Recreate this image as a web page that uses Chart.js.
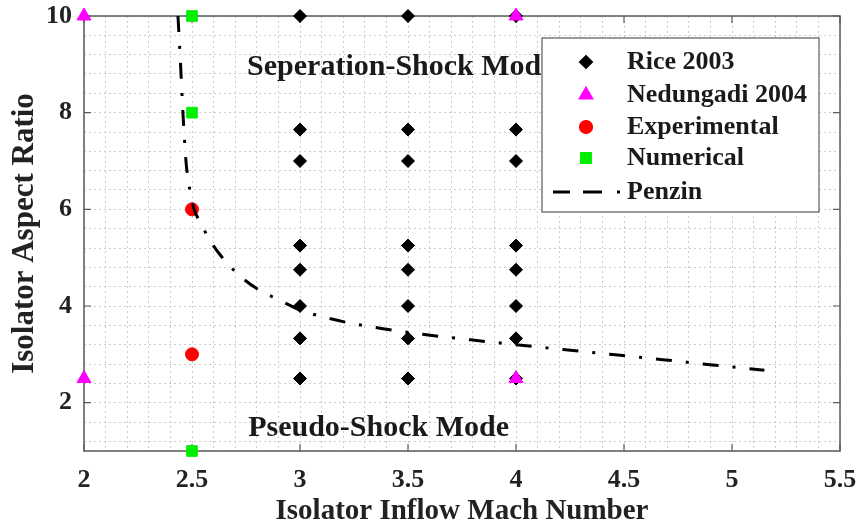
<!DOCTYPE html>
<html>
<head>
<meta charset="utf-8">
<script src="https://cdn.jsdelivr.net/npm/chart.js@4.4.0/dist/chart.umd.min.js"></script>
<style>
  html, body { margin: 0; padding: 0; background: #fff; }
  #wrap { width: 863px; height: 529px; }
</style>
</head>
<body>
<div id="wrap"><canvas id="chart"></canvas></div>
<script>
// Isolator operating map: aspect ratio vs. inflow Mach number
const riceMach = [3, 3, 3, 3, 3, 3, 3, 3,
                  3.5, 3.5, 3.5, 3.5, 3.5, 3.5, 3.5, 3.5,
                  4, 4, 4, 4, 4, 4, 4, 4];
const riceRatio = [10, 7.65, 7, 5.25, 4.75, 4, 3.33, 2.5,
                   10, 7.65, 7, 5.25, 4.75, 4, 3.33, 2.5,
                   10, 7.65, 7, 5.25, 4.75, 4, 3.33, 2.5];

const nedungadiMach = [2, 2, 4, 4];
const nedungadiRatio = [10, 2.5, 10, 2.5];

const experimentalMach = [2.5, 2.5];
const experimentalRatio = [6, 3];

const numericalMach = [2.5, 2.5, 2.5];
const numericalRatio = [10, 8, 1];

const penzinMach = [2.435, 2.447, 2.458, 2.472, 2.49, 2.51, 2.54, 2.58, 2.63, 2.71, 2.8, 2.91,
                    3.0, 3.12, 3.25, 3.4, 3.56, 3.79, 4.0, 4.24, 4.46, 4.68, 4.91, 5.15];
const penzinRatio = [10, 9, 8, 7, 6.4, 6, 5.72, 5.38, 5.06, 4.67, 4.36, 4.11,
                     3.92, 3.76, 3.63, 3.52, 3.42, 3.3, 3.2, 3.09, 2.99, 2.89, 2.78, 2.67];

const xTicks = [2, 2.5, 3, 3.5, 4, 4.5, 5, 5.5];
const yTicks = [2, 4, 6, 8, 10];

const regionLabels = ['Seperation-Shock Mode', 'Pseudo-Shock Mode'];
const regionMach = [2.755, 2.76];
const regionRatio = [8.93, 1.48];

const FONT = "'Liberation Serif', 'Times New Roman', serif";

function pairs(xs, ys) {
  return xs.map((x, i) => ({ x: x, y: ys[i] }));
}

// grid positions: 0.1 in Mach, 0.4 in aspect ratio
const xGrid = [];
for (let i = 0; i <= 35; i++) xGrid.push(Math.round((2 + i * 0.1) * 10) / 10);
const yGrid = [1];
for (let i = 0; i <= 22; i++) yGrid.push(Math.round((1.2 + i * 0.4) * 10) / 10);

const isMajor = (list, v) => list.some(t => Math.abs(t - v) < 1e-6);

// keep the plot frame where the layout padding puts it
function noLabelPadding(s) {
  s.paddingTop = 0;
  s.paddingBottom = 0;
  s.paddingLeft = 0;
  s.paddingRight = 0;
}

const boxPlugin = {
  id: 'box',
  beforeDatasetsDraw(chart) {
    const { ctx, chartArea: a, scales } = chart;
    ctx.save();
    ctx.strokeStyle = '#5a5a5a';
    ctx.lineWidth = 1.5;
    ctx.strokeRect(a.left, a.top, a.right - a.left, a.bottom - a.top);
    ctx.lineWidth = 1.2;
    ctx.beginPath();
    xTicks.forEach(v => {
      const px = scales.x.getPixelForValue(v);
      ctx.moveTo(px, a.bottom); ctx.lineTo(px, a.bottom - 7);
      ctx.moveTo(px, a.top); ctx.lineTo(px, a.top + 7);
    });
    yTicks.forEach(v => {
      const py = scales.y.getPixelForValue(v);
      ctx.moveTo(a.left, py); ctx.lineTo(a.left + 7, py);
      ctx.moveTo(a.right, py); ctx.lineTo(a.right - 7, py);
    });
    ctx.stroke();
    ctx.restore();
  },
  afterDatasetsDraw(chart) {
    const { ctx, scales } = chart;
    ctx.save();
    ctx.fillStyle = '#1a1a1a';
    ctx.font = 'bold 30px ' + FONT;
    ctx.textAlign = 'left';
    ctx.textBaseline = 'middle';
    regionLabels.forEach((t, i) => {
      ctx.fillText(t, scales.x.getPixelForValue(regionMach[i]), scales.y.getPixelForValue(regionRatio[i]));
    });
    ctx.restore();
  }
};

const legendPlugin = {
  id: 'boxLegend',
  afterDraw(chart) {
    const { ctx, chartArea: a } = chart;
    const w = 277, h = 174;
    const left = a.right - 21 - w, top = a.top + 22;
    ctx.save();
    ctx.fillStyle = '#fff';
    ctx.fillRect(left, top, w, h);
    ctx.strokeStyle = '#5a5a5a';
    ctx.lineWidth = 1.2;
    ctx.strokeRect(left, top, w, h);
    const rowY = [24, 57, 89, 120, 154];
    chart.data.datasets.forEach((ds, i) => {
      const y = top + rowY[i];
      if (ds.type === 'line') {
        ctx.strokeStyle = ds.borderColor;
        ctx.lineWidth = ds.borderWidth;
        ctx.setLineDash([17, 13, 19, 15, 3, 40]);
        ctx.beginPath();
        ctx.moveTo(left + 11, y);
        ctx.lineTo(left + 80, y);
        ctx.stroke();
        ctx.setLineDash([]);
      } else {
        ctx.fillStyle = ds.backgroundColor;
        ctx.strokeStyle = ds.borderColor;
        Chart.helpers.drawPoint(ctx, {
          pointStyle: ds.pointStyle, radius: ds.pointRadius, rotation: 0, borderWidth: 1
        }, left + 44, y);
      }
      ctx.fillStyle = '#1a1a1a';
      ctx.font = 'bold 26px ' + FONT;
      ctx.textAlign = 'left';
      ctx.textBaseline = 'middle';
      ctx.fillText(ds.label, left + 85, y);
    });
    ctx.restore();
  }
};

const scatter = (label, xs, ys, style, color, radius, order) => ({
  label: label,
  data: pairs(xs, ys),
  pointStyle: style,
  pointRadius: radius,
  pointHoverRadius: radius,
  backgroundColor: color,
  borderColor: color,
  borderWidth: 1,
  clip: false,
  order: order
});

new Chart(document.getElementById('chart'), {
  type: 'scatter',
  data: {
    datasets: [
      scatter('Rice 2003', riceMach, riceRatio, 'rectRot', '#000000', 6.5, 4),
      scatter('Nedungadi 2004', nedungadiMach, nedungadiRatio, 'triangle', '#ff00ff', 8, 0),
      scatter('Experimental', experimentalMach, experimentalRatio, 'circle', '#ff0000', 6.5, 2),
      scatter('Numerical', numericalMach, numericalRatio, 'rect', '#00ee00', 7.5, 2),
      {
        type: 'line',
        label: 'Penzin',
        data: pairs(penzinMach, penzinRatio),
        borderColor: '#000000',
        borderWidth: 3,
        borderDash: [16, 14, 3, 14],
        borderCapStyle: 'butt',
        cubicInterpolationMode: 'monotone',
        pointRadius: 0,
        fill: false,
        clip: false,
        order: 1
      }
    ]
  },
  options: {
    responsive: true,
    maintainAspectRatio: false,
    animation: false,
    layout: { padding: { top: 16, right: 23, left: 0, bottom: 0 } },
    plugins: { legend: { display: false }, tooltip: { enabled: false } },
    scales: {
      x: {
        type: 'linear',
        min: 2,
        max: 5.5,
        afterBuildTicks: s => { s.ticks = xGrid.map(v => ({ value: v })); },
        afterFit: s => { s.height = 78; noLabelPadding(s); },
        grid: { color: '#cccccc', lineWidth: 1, drawTicks: false },
        border: { display: false, dash: [2, 3] },
        ticks: {
          autoSkip: false,
          maxRotation: 0,
          padding: 14,
          color: '#222',
          font: { family: FONT, size: 26, weight: 'bold' },
          callback: v => isMajor(xTicks, v) ? String(Math.round(v * 10) / 10) : ''
        },
        title: {
          display: true,
          text: 'Isolator Inflow Mach Number',
          color: '#222',
          font: { family: FONT, size: 29, weight: 'bold' },
          padding: { top: 0, bottom: 0 }
        }
      },
      y: {
        type: 'linear',
        min: 1,
        max: 10,
        afterBuildTicks: s => { s.ticks = yGrid.map(v => ({ value: v })); },
        afterFit: s => { s.width = 84; noLabelPadding(s); },
        grid: { color: '#cccccc', lineWidth: 1, drawTicks: false },
        border: { display: false, dash: [2, 3] },
        ticks: {
          autoSkip: false,
          padding: 12,
          color: '#222',
          font: { family: FONT, size: 26, weight: 'bold' },
          callback: v => isMajor(yTicks, v) ? String(v) : ''
        },
        title: {
          display: true,
          text: 'Isolator Aspect Ratio',
          color: '#222',
          font: { family: FONT, size: 31, weight: 'bold' },
          padding: { top: 6, bottom: 0 }
        }
      }
    }
  },
  plugins: [boxPlugin, legendPlugin]
});
</script>
</body>
</html>
